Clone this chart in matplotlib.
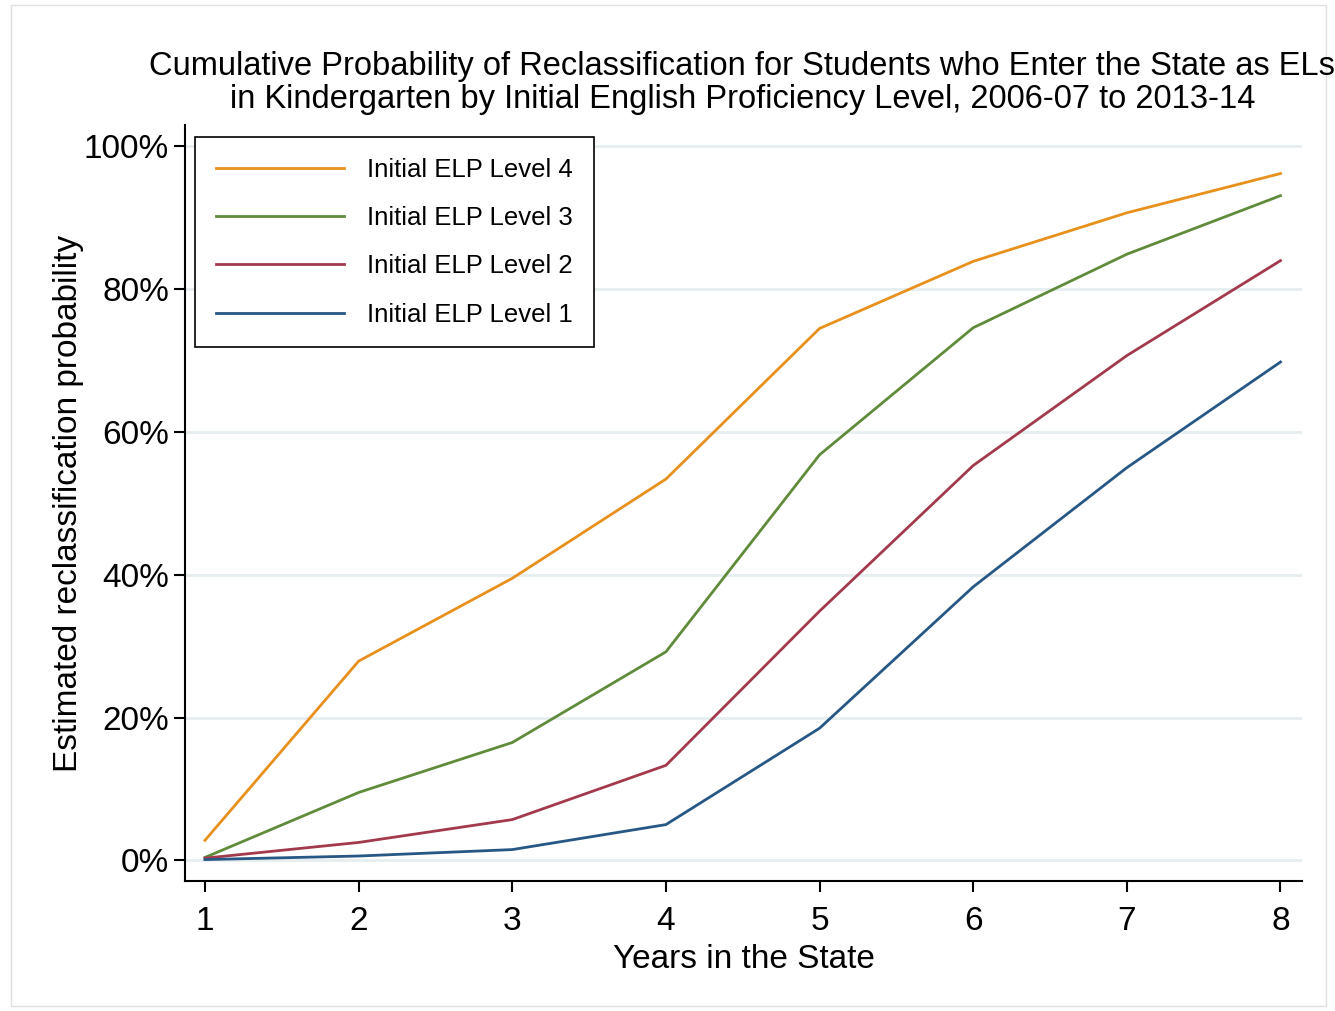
import matplotlib
matplotlib.use("Agg")
import matplotlib.pyplot as plt
from matplotlib.ticker import FuncFormatter

plt.rcParams['font.family'] = ['Liberation Sans', 'DejaVu Sans']

years = [1, 2, 3, 4, 5, 6, 7, 8]
level4 = [2.8, 27.9, 39.5, 53.4, 74.5, 83.9, 90.7, 96.2]
level3 = [0.4, 9.5, 16.5, 29.2, 56.8, 74.6, 84.9, 93.1]
level2 = [0.3, 2.5, 5.7, 13.3, 34.9, 55.3, 70.7, 84.0]
level1 = [0.1, 0.6, 1.5, 5.0, 18.5, 38.3, 55.0, 69.8]

fig = plt.figure(figsize=(13.35, 10.11), dpi=100)
ax = fig.add_axes([185/1335, 1-881/1011, (1302-185)/1335, (881-125)/1011])

ax.plot(years, level4, color='#E8901C', lw=2, label='Initial ELP Level 4')
ax.plot(years, level3, color='#5F8B3B', lw=2, label='Initial ELP Level 3')
ax.plot(years, level2, color='#A23A4C', lw=2, label='Initial ELP Level 2')
ax.plot(years, level1, color='#275785', lw=2, label='Initial ELP Level 1')

ax.set_xlim(0.87, 8.14)
ax.set_ylim(-2.9, 103)
ax.set_xticks(years)
ax.set_yticks([0, 20, 40, 60, 80, 100])
ax.yaxis.set_major_formatter(FuncFormatter(lambda v, p: f"{v:.0f}%"))
ax.grid(axis='y', color='#E6EEF0', lw=2)
ax.set_axisbelow(True)
for s in ['top', 'right']:
    ax.spines[s].set_visible(False)
ax.spines['left'].set_linewidth(1.5)
ax.spines['bottom'].set_linewidth(1.5)
ax.tick_params(labelsize=24, width=1.5, length=8)
ax.tick_params(axis='x', pad=10)

ax.set_xlabel('Years in the State', fontsize=24, labelpad=5)
ax.set_ylabel('Estimated reclassification probability', fontsize=24, labelpad=0)
fig.text(0.556, 0.918, 'Cumulative Probability of Reclassification for Students who Enter the State as ELs\nin Kindergarten by Initial English Proficiency Level, 2006-07 to 2013-14',
         ha='center', va='center', fontsize=23.5, linespacing=1.05)

leg = ax.legend(loc='upper left', bbox_to_anchor=(0.009, 0.984), borderaxespad=0, fontsize=18.5,
                fancybox=False, edgecolor='black', framealpha=1, handlelength=5,
                labelspacing=0.95, borderpad=0.8, handletextpad=0.9)
leg.get_frame().set_linewidth(1.2)

fig.patches.append(plt.Rectangle((0.008, 0.005), 0.985, 0.99, transform=fig.transFigure,
                                 fill=False, edgecolor='#E0E0E0', lw=1))
fig.savefig('out.png', dpi=100)
